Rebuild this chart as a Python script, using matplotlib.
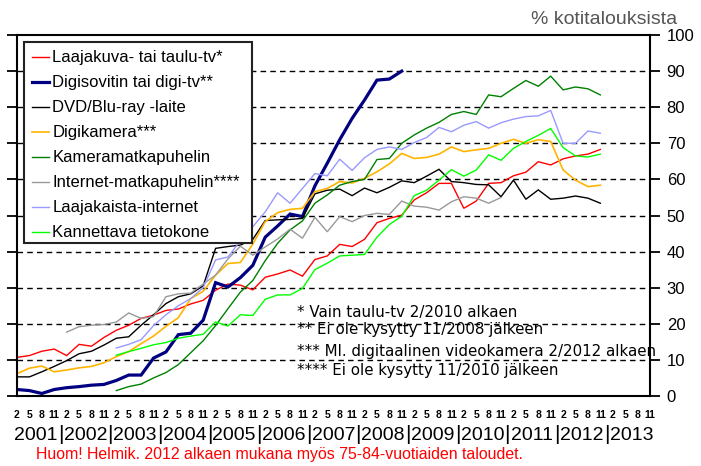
import numpy as np
import matplotlib
matplotlib.use('Agg')
from matplotlib import pyplot as plt
from matplotlib.patches import Rectangle

plt.rcParams['font.family'] = ['Liberation Sans', 'DejaVu Sans']

# quarterly survey rounds, 2/2001 ... 11/2013
months = ['2', '5', '8', '11']
years = ['2001', '2002', '2003', '2004', '2005', '2006', '2007',
         '2008', '2009', '2010', '2011', '2012', '2013']

na = np.nan

# % of households, one value per round from 2/2001 (index 0) to 11/2012 (index 47)
laajakuva = [10.7, 11.2, 12.4, 13.0, 11.2, 14.3, 13.8, 16.2, 18.2, 19.6,
             21.5, 22.4, 23.7, 24.1, 25.5, 26.5, 29.3, 31.0, 30.7, 29.4,
             32.9, 33.8, 34.9, 33.2, 37.8, 38.8, 42.0, 41.4, 43.4, 48.0,
             49.2, 50.1, 54.3, 56.3, 58.9, 58.9, 52.0, 54.0, 58.9, 59.1,
             61.0, 62.0, 64.9, 64.0, 65.7, 66.5, 67.0, 68.3]
digisovitin = [1.8, 1.5, 0.7, 1.8, 2.3, 2.6, 3.0, 3.2, 4.3, 5.8,
               5.8, 10.5, 12.2, 17.0, 17.4, 21.0, 31.4, 30.2, 32.8, 36.2,
               44.0, 47.1, 50.4, 49.7, 58.2, 64.5, 71.0, 76.9, 82.0, 87.5,
               87.8, 90.0]
dvd = [5.3, 5.3, 6.7, 8.2, 9.8, 11.7, 12.4, 14.1, 16.0, 16.4,
       19.6, 22.5, 25.6, 27.5, 28.3, 30.5, 40.9, 41.4, 41.8, 43.4,
       48.6, 48.8, 48.9, 49.2, 56.0, 57.0, 57.3, 55.5, 57.6, 56.3,
       57.8, 59.6, 59.1, 60.9, 62.8, 59.4, 59.1, 58.6, 58.5, 55.2,
       59.8, 54.5, 57.1, 54.5, 54.8, 55.4, 54.8, 53.4]
digikamera = [6.2, 7.7, 8.3, 6.7, 7.2, 7.8, 8.2, 9.2, 10.9, 12.3,
              14.5, 16.6, 19.3, 21.7, 27.0, 29.0, 33.5, 36.7, 37.0, 42.1,
              48.3, 50.8, 51.7, 52.0, 56.6, 57.5, 59.4, 59.0, 60.3, 62.1,
              64.3, 67.2, 65.8, 66.1, 67.0, 69.0, 67.7, 68.2, 68.6, 70.0,
              71.1, 70.0, 71.0, 70.5, 62.6, 59.8, 58.0, 58.4]
kamerapuhelin = [na, na, na, na, na, na, na, na, 1.5, 2.6,
                 3.3, 5.0, 6.5, 8.7, 12.0, 15.3, 19.5, 24.2, 28.8, 32.0,
                 37.5, 42.3, 46.0, 48.5, 53.4, 55.7, 58.4, 59.4, 60.0, 65.5,
                 65.8, 70.0, 72.3, 74.2, 75.8, 78.0, 78.8, 78.0, 83.4, 82.9,
                 85.2, 87.4, 85.8, 88.6, 84.8, 85.6, 85.1, 83.4]
internetpuhelin = [na, na, na, na, 17.7, 19.2, 19.6, 19.8, 20.5, 23.0,
                   21.5, 22.0, 27.5, 28.3, 28.5, 31.0, 33.5, 38.0, 41.5, 39.0,
                   41.3, 43.5, 46.2, 43.7, 49.5, 45.5, 49.7, 48.3, 50.0, 50.6,
                   50.3, 54.0, 52.6, 52.3, 51.5, 53.8, 55.2, 54.8, 53.4, 55.0]
laajakaista = [na, na, na, na, na, na, na, na, 13.3, 14.3,
               15.6, 19.5, 22.5, 25.0, 27.0, 30.0, 37.7, 38.5, 43.0, 46.9,
               51.0, 56.3, 53.4, 57.5, 61.6, 61.0, 65.6, 62.5, 66.0, 68.3,
               69.0, 68.3, 70.2, 71.6, 74.4, 73.2, 75.0, 76.0, 74.2, 75.7,
               76.7, 77.4, 77.6, 79.1, 70.0, 70.0, 73.4, 72.8]
kannettava = [na, na, na, na, na, na, na, na, 11.3, 12.3,
              13.2, 14.2, 14.8, 16.0, 16.6, 17.1, 20.5, 19.4, 22.5, 22.3,
              26.8, 28.0, 28.0, 29.8, 35.0, 36.8, 38.8, 39.0, 39.2, 44.0,
              47.5, 49.8, 55.5, 57.0, 59.8, 62.7, 60.9, 62.6, 66.8, 65.3,
              68.6, 70.5, 72.2, 74.1, 68.8, 66.5, 66.2, 67.0]

series = [
    ('Laajakuva- tai taulu-tv*', laajakuva, '#ff0000', 1.0),
    ('Digisovitin tai digi-tv**', digisovitin, '#000080', 2.3),
    ('DVD/Blu-ray -laite', dvd, '#000000', 1.0),
    ('Digikamera***', digikamera, '#ffb400', 1.2),
    ('Kameramatkapuhelin', kamerapuhelin, '#008000', 1.0),
    ('Internet-matkapuhelin****', internetpuhelin, '#999999', 1.0),
    ('Laajakaista-internet', laajakaista, '#9999ff', 1.0),
    ('Kannettava tietokone', kannettava, '#00ff00', 1.0),
]

notes = ['* Vain taulu-tv 2/2010 alkaen',
         '** Ei ole kysytty 11/2008 jälkeen',
         '*** Ml. digitaalinen videokamera 2/2012 alkaen',
         '**** Ei ole kysytty 11/2010 jälkeen']

fig = plt.figure(figsize=(7.01, 4.66), dpi=100)
ax = fig.add_axes([17 / 701, 70 / 466, 633 / 701, 361 / 466])

for label, vals, color, lw in series:
    ax.plot(np.arange(len(vals)), vals, color=color, lw=lw, label=label,
            solid_joinstyle='miter')

n_q = len(years) * len(months)
ax.set_xlim(0, n_q - 1)
ax.set_ylim(0, 100)

for v in range(10, 100, 10):
    ax.axhline(v, color='black', lw=1.0, ls=(0, (4, 3)), zorder=0.5)

# right-hand y axis with outward ticks, plain ticks on the left
ax.yaxis.set_ticks_position('both')
ax.set_yticks(range(0, 101, 10))
ax.tick_params(axis='y', which='both', direction='out', length=7, width=1.3,
               left=True, right=True, labelleft=False, labelright=True,
               labelsize=12, pad=5, colors='black')
for sp in ax.spines.values():
    sp.set_linewidth(1.5)

ax.set_xticks(np.arange(n_q))
ax.set_xticklabels(months * len(years), fontsize=7.5, fontweight='bold')
ax.tick_params(axis='x', length=0, pad=10)

ytrans = matplotlib.transforms.blended_transform_factory(ax.transData, fig.transFigure)
for k, yr in enumerate(years):
    ax.text(4 * k + 1.5, 31 / 466, yr, transform=ytrans, ha='center',
            va='center', fontsize=14)
    if k > 0:
        ax.text(4 * k - 0.5, 31 / 466, '|', transform=ytrans, ha='center',
                va='center', fontsize=15)

# legend box drawn by hand so its size matches the original
ax.add_patch(Rectangle((7 / 633, 153 / 361), 228 / 633, 201 / 361,
                       transform=ax.transAxes, facecolor='white',
                       edgecolor='#222222', lw=1.5, zorder=4))
leg = ax.legend(loc='upper left', bbox_to_anchor=(7 / 633, 354 / 361),
                borderaxespad=0, frameon=False, fontsize=12,
                handlelength=1.0, handletextpad=0.2, labelspacing=0.6,
                borderpad=0.5)
leg.set_zorder(5)

note_y = [0.230, 0.183, 0.122, 0.072]
for txt, yy in zip(notes, note_y):
    ax.text(0.442, yy, txt, transform=ax.transAxes, fontsize=10.8,
            family='DejaVu Sans', va='center', ha='left', zorder=5)

fig.text(677 / 701, 1 - 19 / 466, '% kotitalouksista', ha='right',
         va='center', fontsize=14, color='#555555')
fig.text(36 / 701, 11 / 466,
         'Huom! Helmik. 2012 alkaen mukana myös 75-84-vuotiaiden taloudet.',
         color='red', fontsize=11.4, va='center', ha='left')

fig.savefig('out.png', dpi=100)
